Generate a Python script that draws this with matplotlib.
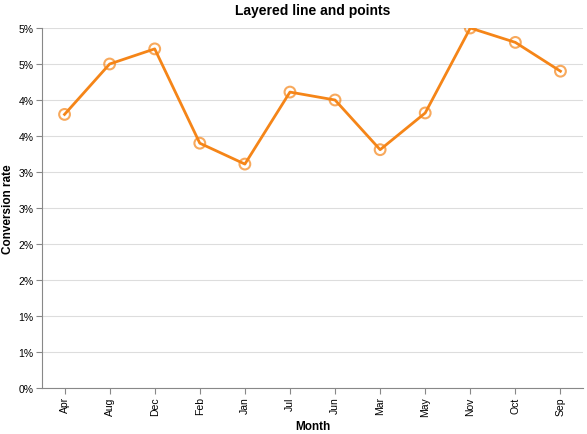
import matplotlib
matplotlib.use("Agg")
import math
import matplotlib.pyplot as plt
from matplotlib.ticker import FuncFormatter

plt.rcParams['font.family'] = ['Liberation Sans', 'DejaVu Sans']

months = ["Apr","Aug","Dec","Feb","Jan","Jul","Jun","Mar","May","Nov","Oct","Sep"]
rates = [0.038,0.045,0.0471,0.034,0.0311,0.0411,0.040,0.0331,0.0382,0.050,0.048,0.044]

fig = plt.figure(figsize=(5.87,4.35), dpi=100)
ax = fig.add_axes([42/587, 1-389/435, 541/587, 360/435])
x = list(range(len(months)))
c = "#f58518"
ax.plot(x, rates, color=c, lw=2, zorder=3)
ax.scatter(x, rates, s=60, facecolors="none", edgecolors=c, linewidths=1.5, alpha=0.7, zorder=4)
ax.set_xlim(-0.5, len(months)-0.5)
ax.set_ylim(0, 0.05)
ax.set_yticks([i*0.005 for i in range(11)])
ax.yaxis.set_major_formatter(FuncFormatter(lambda v,p: f"{math.floor(v*100+0.5+1e-9):.0f}%"))
ax.set_xticks(x)
ax.set_xticklabels(months, rotation=90)
ax.grid(axis="y", color="#dddddd", lw=0.8)
ax.set_axisbelow(True)
for s in ["top","right"]:
    ax.spines[s].set_visible(False)
for s in ["left","bottom"]:
    ax.spines[s].set_color("#888888")
ax.tick_params(colors="#888888", labelcolor="black", labelsize=7.5, length=4, pad=2)
ax.set_xlabel("Month", fontweight="bold", fontsize=8.5, labelpad=3)
ax.set_ylabel("Conversion rate", fontweight="bold", fontsize=8.5, labelpad=3)
ax.set_title("Layered line and points", fontweight="bold", fontsize=10, pad=10)
fig.savefig("out.png", dpi=100)
